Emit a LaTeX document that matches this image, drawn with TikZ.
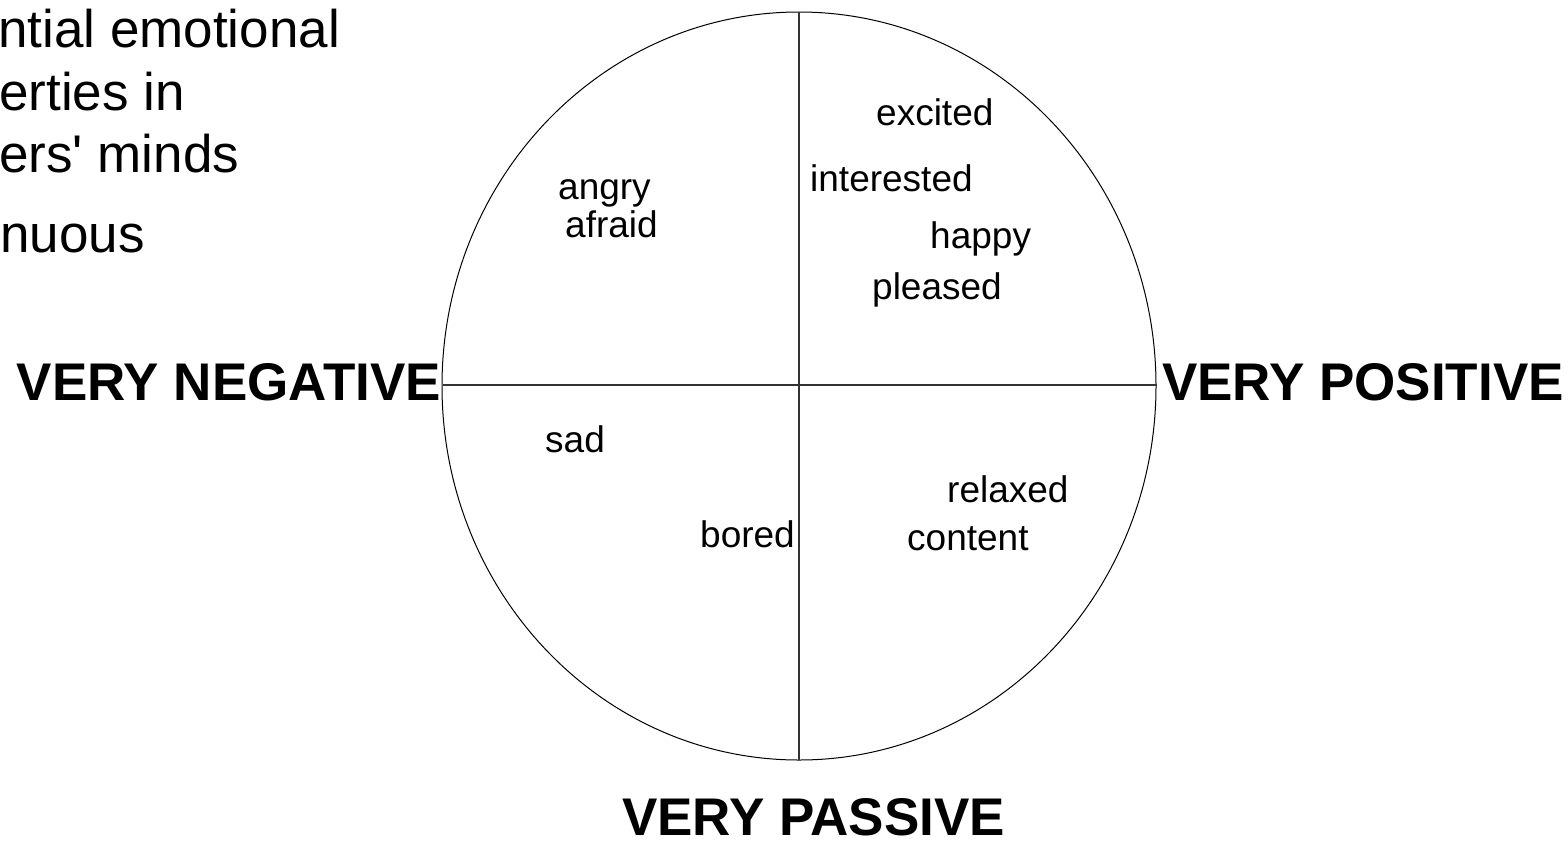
\documentclass[tikz,border=0pt]{standalone}
\usepackage{fontspec}
\setmainfont{Liberation Sans}
\newfontfamily\plainfont{Liberation Sans}[Ligatures=ResetAll]
\begin{document}
\begin{tikzpicture}[x=1pt,y=-1pt,
  big/.style={anchor=base west,inner sep=0pt,font=\fontsize{53}{60}\selectfont},
  bold/.style={anchor=base west,inner sep=0pt,font=\fontsize{53}{60}\selectfont\bfseries},
  emo/.style={anchor=base west,inner sep=0pt,font=\fontsize{37}{44}\selectfont},
  axis/.style={draw=black!80,line width=1.1pt}]
\useasboundingbox[fill=white] (0,0) rectangle (1568,844);
% outline
\draw[line width=1pt] (799,386) ellipse [x radius=357pt, y radius=374pt];
\coordinate (top) at (799,12);
\coordinate (bot) at (799,760);
\coordinate (lft) at (443,385);
\coordinate (rgt) at (1157,385);
\draw[axis] (top) -- (bot);
\draw[axis] (lft) -- (rgt);
% bullet text (cropped at left)
\node[big] (t1) at (-2,47) {ntial emotional};
\node[big] (t2) at (-1,110) {erties in};
\node[big] (t3) at (-1,172) {ers{\plainfont'} minds};
\node[big] (t4) at (0,252) {nuous};
% axis labels
\node[bold,anchor=base east] (neg) at (441,400) {VERY NEGATIVE};
\node[bold] (pos) at (1162,400) {VERY POSITIVE};
\node[bold] (pas) at (622,835) {VERY PASSIVE};
% emotions
\node[emo] (excited) at (876,125) {excited};
\node[emo] (interested) at (810,191) {interested};
\node[emo] (angry) at (558,199) {angry};
\node[emo] (afraid) at (565,237) {afraid};
\node[emo] (happy) at (930,248) {happy};
\node[emo] (pleased) at (872,299) {pleased};
\node[emo] (sad) at (545,452) {sad};
\node[emo] (bored) at (700,547) {bored};
\node[emo] (relaxed) at (947,502) {relaxed};
\node[emo] (content) at (907,550) {content};
\end{tikzpicture}
\end{document}
